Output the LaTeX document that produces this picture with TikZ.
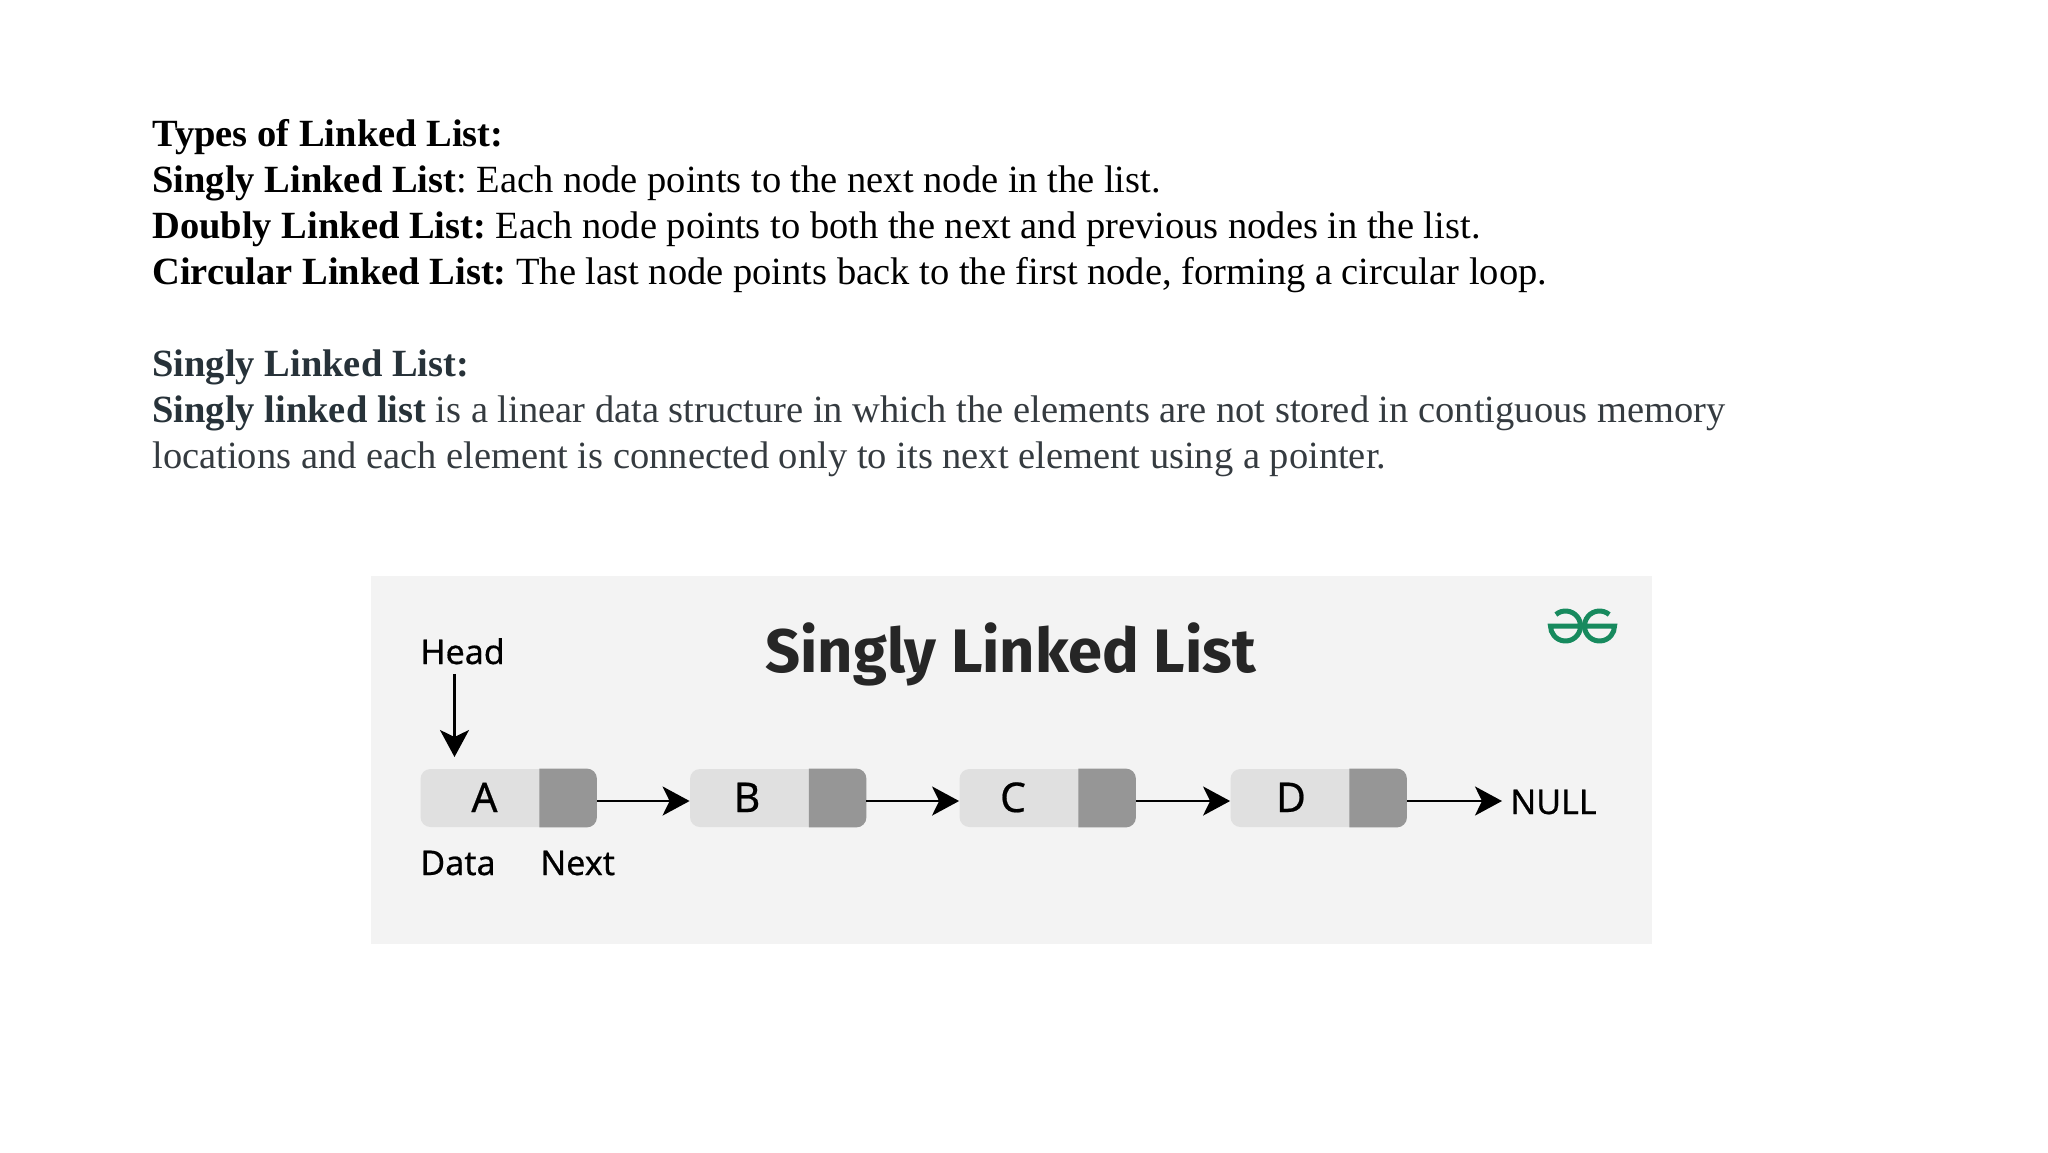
\documentclass[tikz,border=0pt]{standalone}
\usepackage{fontspec}
\setmainfont{Liberation Serif}
\newfontfamily\figfont[FakeBold=0.5]{Noto Sans}
\newfontfamily\titlefont{Fira Sans}
\usetikzlibrary{arrows.meta, calc, positioning}
\frenchspacing
\definecolor{panelGray}{HTML}{F3F3F3}
\definecolor{dataGray}{HTML}{E0E0E0}
\definecolor{nextGray}{HTML}{969696}
\definecolor{slateText}{HTML}{273239}
\definecolor{bodyText}{HTML}{353B40}
\definecolor{logoGreen}{HTML}{178A5E}
\tikzset{
    textLine/.style={anchor=base west, inner sep=0pt, font=\fontsize{19.25}{23}\selectfont},
    figLabel/.style={anchor=base west, inner sep=0pt, font=\figfont\fontsize{17}{18}\selectfont},
    cellLetter/.style={anchor=base, inner sep=0pt, font=\figfont\fontsize{20.5}{22}\selectfont},
    listCell/.style={rectangle, fill=dataGray, rounded corners=5pt, inner sep=0pt, minimum width=88pt, minimum height=29pt},
    listEdge/.style={-{Stealth[length=13.5pt, width=14.5pt, inset=3.5pt]}, line width=1.3pt, black},
    logoStroke/.style={draw=logoGreen, line width=2.5pt},
}
\newcommand{\drawCell}[3]{
    \node[listCell] (#1) at (#2,798) {};
    \fill[nextGray] ($(#1.north east)+(-57.5,0)$) [rounded corners=5pt] -- (#1.north east) -- (#1.south east) [sharp corners] -- ($(#1.south east)+(-57.5,0)$) -- cycle;
    \node[cellLetter] (letter#1) at (#3,812) {#1};
}
\newcommand{\drawNext}[2]{
    \draw[listEdge] ([yshift=-1.5pt]#1.east) -- ([yshift=-1.5pt]#2.west);
}

\begin{document}
\begin{tikzpicture}[x=0.5pt, y=-0.5pt]
    \useasboundingbox (0,0) rectangle (2048,1152);

    % text above the figure
    \node[textLine] (types) at (152,146) {\textbf{Types of Linked List:}};
    \node[textLine] (singly) at (152,192) {\textbf{Singly Linked List}: Each node points to the next node in the list.};
    \node[textLine] (doubly) at (152,238) {\textbf{Doubly Linked List:} Each node points to both the next and previous nodes in the list.};
    \node[textLine] (circular) at (152,284) {\textbf{Circular Linked List:} The last node points back to the first node, forming a circular loop.};
    \node[textLine, text=slateText] (heading) at (152,376) {\textbf{Singly Linked List:}};
    \node[textLine, text=bodyText] (bodyOne) at (152,422) {\textbf{\color{slateText}Singly linked list} is a linear data structure in which the elements are not stored in contiguous memory};
    \node[textLine, text=bodyText] (bodyTwo) at (152,468) {locations and each element is connected only to its next element using a pointer.};

    % figure panel
    \fill[panelGray] (371,576) rectangle (1652,944);
    \node[anchor=base west, inner sep=0pt, text=black!85, font=\titlefont\bfseries\fontsize{30.7}{32}\selectfont] (title) at (765,672) {Singly Linked List};
    \node[figLabel] (head) at (420,664) {Head};

    \drawCell{A}{508.5}{484.5}
    \drawCell{B}{778}{747}
    \drawCell{C}{1047.5}{1013}
    \drawCell{D}{1318.5}{1291}

    \node[figLabel] (data) at (420,875) {Data};
    \node[figLabel] (next) at (540,875) {Next};
    \node[figLabel, anchor=base west] (null) at (1510,814) {NULL};

    \coordinate (headTip) at (454.5,769);
    \draw[listEdge, shorten >=6pt] ([yshift=-4.5pt]head.south -| headTip) -- (headTip);
    \drawNext{A}{B}
    \drawNext{B}{C}
    \drawNext{C}{D}
    \draw[listEdge, shorten >=4pt] ([yshift=-1.5pt]D.east) -- (null.west |- {$(D.east)+(0,3)$});

    % logo
    \draw[logoStroke] (1565.5,626) ++(130:7.5pt) arc[start angle=130, end angle=-180, radius=7.5pt] -- (1582.5,626);
    \draw[logoStroke] (1599.5,626) ++(50:7.5pt) arc[start angle=50, end angle=360, radius=7.5pt] -- (1582.5,626);
\end{tikzpicture}
\end{document}
